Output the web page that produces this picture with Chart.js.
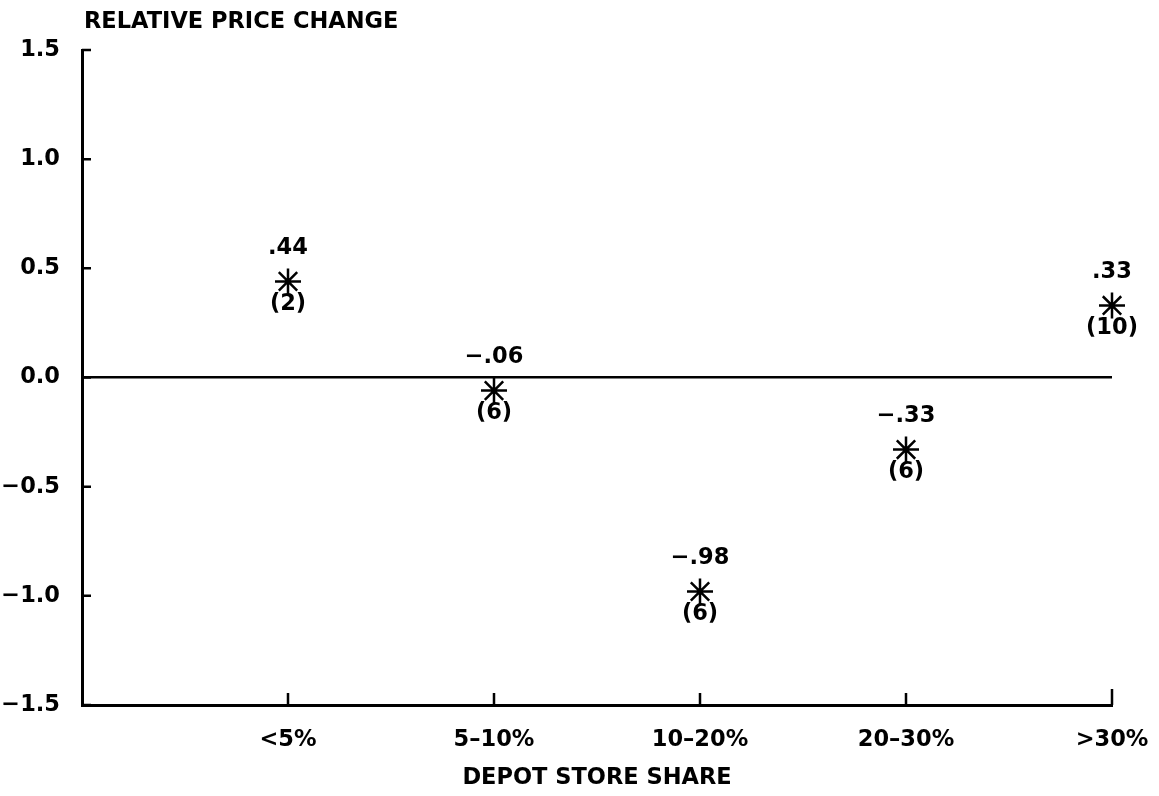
<!DOCTYPE html>
<html lang="en">

<head>
    <meta charset="UTF-8">
    <title>Depot store share</title>
    <script src="https://cdn.jsdelivr.net/npm/chart.js"></script>
    <style>
        html, body { margin: 0; padding: 0; background: #fff; }
        #wrap { width: 1159px; height: 796px; position: relative; }
    </style>
</head>

<body>
    <div id="wrap">
        <canvas id="priceChart" width="1159" height="796"></canvas>
    </div>

    <script>
        // data
        const categories = ['<5%', '5\u201310%', '10\u201320%', '20\u201330%', '>30%'];
        const priceChange = [0.44, -0.06, -0.98, -0.33, 0.33];
        const storeCounts = [2, 6, 6, 6, 10];
        const yTicks = [-1.5, -1.0, -0.5, 0.0, 0.5, 1.0, 1.5];

        const FONT = '"DejaVu Sans", sans-serif';
        const LABEL_FONT = { family: FONT, size: 22.5, weight: 'bold' };

        const fmtValue = v => {
            let s = Math.abs(v).toFixed(2).replace(/^0/, '');
            return (v < 0 ? '\u2212' : '') + s;
        };
        const fmtTick = v => (v < 0 ? '\u2212' : '') + Math.abs(v).toFixed(1);

        // value above each star, count below it, inward tick marks, y title
        const annotate = {
            id: 'annotate',
            afterDatasetsDraw(chart) {
                const ctx = chart.ctx;
                const xs = chart.scales.x, ys = chart.scales.y;
                ctx.save();
                ctx.fillStyle = '#000';
                ctx.font = 'bold 22.5px ' + FONT;
                ctx.textAlign = 'center';
                ctx.textBaseline = 'middle';
                priceChange.forEach((v, i) => {
                    const px = xs.getPixelForValue(i + 1);
                    const py = ys.getPixelForValue(v);
                    ctx.fillText(fmtValue(v), px, py - 33);
                    ctx.fillText('(' + storeCounts[i] + ')', px, py + 23);
                });

                // tick marks pointing into the plot
                ctx.strokeStyle = '#000';
                ctx.lineWidth = 2.5;
                ctx.beginPath();
                categories.forEach((c, i) => {
                    const px = xs.getPixelForValue(i + 1);
                    ctx.moveTo(px, xs.top);
                    ctx.lineTo(px, xs.top - (i === categories.length - 1 ? 16 : 12));
                });
                yTicks.forEach(t => {
                    const py = ys.getPixelForValue(t);
                    ctx.moveTo(ys.right, py);
                    ctx.lineTo(ys.right + 9, py);
                });
                ctx.stroke();

                ctx.textAlign = 'left';
                ctx.fillText('RELATIVE PRICE CHANGE', 84, 22);
                ctx.restore();
            }
        };

        new Chart(document.getElementById('priceChart'), {
            type: 'scatter',
            data: {
                datasets: [{
                    data: priceChange.map((v, i) => ({ x: i + 1, y: v })),
                    pointStyle: 'star',
                    radius: 13,
                    borderWidth: 2.5,
                    borderColor: '#000',
                    backgroundColor: '#000',
                    clip: false
                }]
            },
            options: {
                responsive: false,
                animation: false,
                layout: { padding: { top: 50, right: 47, left: 0, bottom: 0 } },
                plugins: {
                    legend: { display: false },
                    tooltip: { enabled: false }
                },
                scales: {
                    x: {
                        type: 'linear',
                        min: 0,
                        max: 5,
                        afterFit: s => { s.height = 91; s.paddingLeft = 0; s.paddingRight = 0; },
                        afterBuildTicks: s => { s.ticks = [0, 1, 2, 3, 4, 5].map(v => ({ value: v })); },
                        grid: { display: false, drawTicks: false },
                        border: { display: true, color: '#000', width: 3 },
                        ticks: {
                            padding: 22,
                            color: '#000',
                            autoSkip: false,
                            maxRotation: 0,
                            font: LABEL_FONT,
                            callback: v => v >= 1 ? categories[v - 1] : ''
                        },
                        title: {
                            display: true,
                            text: 'DEPOT STORE SHARE',
                            color: '#000',
                            font: LABEL_FONT,
                            padding: { top: 7 }
                        }
                    },
                    y: {
                        min: -1.5,
                        max: 1.5,
                        afterFit: s => { s.width = 82; },
                        afterBuildTicks: s => { s.ticks = yTicks.map(v => ({ value: v })); },
                        grid: {
                            drawTicks: false,
                            color: c => c.tick && c.tick.value === 0 ? '#000' : 'rgba(0,0,0,0)',
                            lineWidth: 2.5
                        },
                        border: { display: true, color: '#000', width: 3 },
                        ticks: {
                            padding: 22,
                            color: '#000',
                            font: LABEL_FONT,
                            callback: v => fmtTick(v)
                        }
                    }
                }
            },
            plugins: [annotate]
        });
    </script>
</body>

</html>
